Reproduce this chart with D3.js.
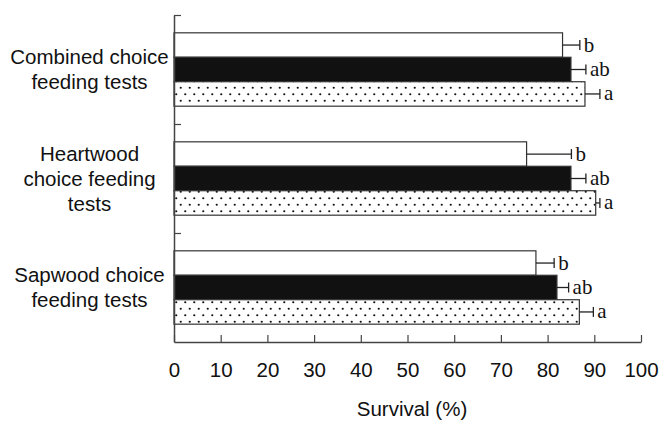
<!DOCTYPE html>
<html>
<head>
<meta charset="utf-8">
<script src="https://cdn.jsdelivr.net/npm/d3@7"></script>
<style>
  html, body { margin: 0; padding: 0; background: #fff; }
  svg { display: block; }
</style>
</head>
<body>
<svg id="chart" width="661" height="421"></svg>
<script>
// ---- data ----
const categories = [
  ["Combined choice", "feeding tests"],
  ["Heartwood", "choice feeding", "tests"],
  ["Sapwood choice", "feeding tests"]
];
const seriesNames = ["white", "black", "dotted"];
const whiteValues  = [83.2, 75.5, 77.5];
const whiteErrors  = [3.7, 9.6, 3.9];
const blackValues  = [85.0, 85.0, 82.0];
const blackErrors  = [3.2, 3.2, 2.5];
const dottedValues = [88.0, 90.3, 86.8];
const dottedErrors = [3.2, 0.9, 3.0];
const whiteLetters  = ["b", "b", "b"];
const blackLetters  = ["ab", "ab", "ab"];
const dottedLetters = ["a", "a", "a"];
const xTicks = [0, 10, 20, 30, 40, 50, 60, 70, 80, 90, 100];
const xLabel = "Survival (%)";

// ---- layout ----
const svg = d3.select("#chart");
const mLeft = 174, mRight = 641, mTop = 15, mBottom = 342;
const axisColor = "#444";

const x = d3.scaleLinear().domain([0, 100]).range([mLeft, mRight]);
const catIdx = categories.map((d, i) => i);
const yGroup = d3.scaleBand().domain(catIdx).range([mTop, mBottom])
  .paddingInner(0.327).paddingOuter(0.1635);
const ySeries = d3.scaleBand().domain(seriesNames).range([0, yGroup.bandwidth()]).padding(0);

// pattern
const defs = svg.append("defs");
const pat = defs.append("pattern").attr("id", "dots").attr("patternUnits", "userSpaceOnUse")
  .attr("width", 9).attr("height", 13).attr("x", mLeft).attr("y", 0);
pat.append("rect").attr("width", 9).attr("height", 13).attr("fill", "#fff");
pat.append("circle").attr("cx", 2.25).attr("cy", 3.25).attr("r", 1.1).attr("fill", "#111");
pat.append("circle").attr("cx", 6.75).attr("cy", 9.75).attr("r", 1.1).attr("fill", "#111");

const series = [
  { key: "white",  vals: whiteValues,  errs: whiteErrors,  letters: whiteLetters,  fill: "#fff" },
  { key: "black",  vals: blackValues,  errs: blackErrors,  letters: blackLetters,  fill: "#111" },
  { key: "dotted", vals: dottedValues, errs: dottedErrors, letters: dottedLetters, fill: "url(#dots)" }
];

const rows = [];
series.forEach(s => catIdx.forEach(i => rows.push({
  cat: i, key: s.key, v: s.vals[i], e: s.errs[i], letter: s.letters[i], fill: s.fill
})));

const yOf = d => yGroup(d.cat) + ySeries(d.key);
const bh = ySeries.bandwidth();

// bars
svg.append("g").selectAll("rect").data(rows).join("rect")
  .attr("x", x(0))
  .attr("y", d => yOf(d))
  .attr("width", d => x(d.v) - x(0))
  .attr("height", bh)
  .attr("fill", d => d.fill)
  .attr("stroke", "#333")
  .attr("stroke-width", 1.2);

// error bars
const eg = svg.append("g").attr("stroke", "#222").attr("stroke-width", 1.3);
eg.selectAll("line.h").data(rows).join("line").attr("class", "h")
  .attr("x1", d => x(d.v)).attr("x2", d => x(d.v + d.e))
  .attr("y1", d => yOf(d) + bh / 2).attr("y2", d => yOf(d) + bh / 2);
eg.selectAll("line.c").data(rows).join("line").attr("class", "c")
  .attr("x1", d => x(d.v + d.e)).attr("x2", d => x(d.v + d.e))
  .attr("y1", d => yOf(d) + bh / 2 - 5).attr("y2", d => yOf(d) + bh / 2 + 5);

// letters
svg.append("g").selectAll("text").data(rows).join("text")
  .attr("x", d => x(d.v + d.e) + 4)
  .attr("y", d => yOf(d) + bh / 2 + 6.5)
  .attr("font-family", "'Liberation Serif', 'Times New Roman', serif")
  .attr("font-size", 21)
  .attr("fill", "#111")
  .text(d => d.letter);

// x axis
const xAxis = svg.append("g").attr("transform", `translate(0,${mBottom})`)
  .call(d3.axisBottom(x).tickValues(xTicks).tickSizeInner(-7).tickSizeOuter(0).tickPadding(20.5));
xAxis.select(".domain").attr("stroke", axisColor).attr("stroke-width", 1.5);
xAxis.selectAll(".tick line").attr("stroke", axisColor).attr("stroke-width", 1.2);
xAxis.selectAll(".tick text")
  .attr("font-family", "'Liberation Sans', Arial, Helvetica, sans-serif")
  .attr("font-size", 20.5).attr("fill", "#111");

// y axis (group boundaries as ticks)
const yBound = d3.scaleLinear().domain([0, categories.length]).range([mTop, mBottom]);
const yAxis = svg.append("g").attr("transform", `translate(${mLeft},0)`)
  .call(d3.axisLeft(yBound).tickValues([0, 1, 2]).tickSizeInner(-7).tickSizeOuter(0).tickFormat(""));
yAxis.select(".domain").attr("stroke", axisColor).attr("stroke-width", 1.5);
yAxis.selectAll(".tick line").attr("stroke", axisColor).attr("stroke-width", 1.2);

// category labels
const lineH = 25;
const lab = svg.append("g")
  .attr("font-family", "'Liberation Sans', Arial, Helvetica, sans-serif")
  .attr("font-size", 20.5).attr("fill", "#111").attr("text-anchor", "middle");
categories.forEach((lines, i) => {
  const cy = yGroup(i) + yGroup.bandwidth() / 2;
  const t = lab.append("text").attr("x", 89.5);
  lines.forEach((ln, j) => {
    t.append("tspan").attr("x", 89.5)
      .attr("y", cy + (j - (lines.length - 1) / 2) * lineH + 7.2)
      .text(ln);
  });
});

// x label
svg.append("text")
  .attr("x", 412).attr("y", 416)
  .attr("text-anchor", "middle")
  .attr("font-family", "'Liberation Sans', Arial, Helvetica, sans-serif")
  .attr("font-size", 20.5).attr("fill", "#111")
  .text(xLabel);
</script>
</body>
</html>
